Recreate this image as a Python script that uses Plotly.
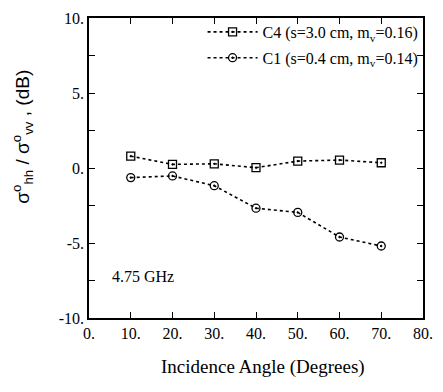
import plotly.graph_objects as go

angles = [10, 20, 30, 40, 50, 60, 70]
c4_vals = [0.79, 0.24, 0.28, 0.02, 0.46, 0.53, 0.35]
c1_vals = [-0.64, -0.53, -1.18, -2.68, -2.96, -4.6, -5.2]
c4_name = "C4 (s=3.0 cm, m<sub>v</sub>=0.16)"
c1_name = "C1 (s=0.4 cm, m<sub>v</sub>=0.14)"
x_ticks = [0, 10, 20, 30, 40, 50, 60, 70, 80]
x_ticktext = ["0.", "10.", "20.", "30.", "40.", "50.", "60.", "70.", "80."]
y_ticks = [-10, -5, 0, 5, 10]
y_ticktext = ["-10.", "-5.", "0.", "5.", "10."]

serif = "Liberation Serif, Times New Roman, serif"

fig = go.Figure()
fig.add_trace(go.Scatter(
    x=angles, y=c4_vals, name=c4_name, mode="lines+markers",
    line=dict(color="black", width=1.6, dash="dot"),
    marker=dict(symbol="square-open-dot", size=8, color="black", line=dict(width=1.3)),
    legendgroup="a"))
fig.add_trace(go.Scatter(
    x=angles, y=c1_vals, name=c1_name, mode="lines+markers",
    line=dict(color="black", width=1.6, dash="dot"),
    marker=dict(symbol="circle-open-dot", size=8, color="black", line=dict(width=1.3)),
    legendgroup="b"))

axis_common = dict(showline=True, linecolor="black", linewidth=1.5, mirror="ticks",
                   ticks="inside", ticklen=6, tickwidth=1.3, tickcolor="black",
                   showgrid=False, zeroline=False,
                   tickfont=dict(family=serif, size=16, color="black"))

fig.update_xaxes(range=[0, 80], tickvals=x_ticks, ticktext=x_ticktext, **axis_common)
fig.update_yaxes(range=[-10, 10], tickvals=y_ticks, ticktext=y_ticktext,
                 minor=dict(dtick=2.5, ticks="inside", ticklen=6, tickwidth=1.3, tickcolor="black"),
                 **axis_common)

fig.add_annotation(x=13, y=-7.2, xref="x", yref="y", text="4.75 GHz", showarrow=False,
                   font=dict(family=serif, size=16, color="black"))
fig.add_annotation(x=-0.2, y=0.605, xref="paper", yref="paper", textangle=-90,
                   xanchor="center",
                   text="σ<sup>o</sup><sub>hh</sub> / σ<sup>o</sup><sub>vv</sub> , (dB)",
                   showarrow=False, font=dict(family="Liberation Sans, Arial, sans-serif", size=19, color="black"))
fig.add_annotation(x=0.52, y=-0.12, xref="paper", yref="paper", yanchor="top",
                   text="Incidence Angle (Degrees)", showarrow=False,
                   font=dict(family=serif, size=19, color="black"))

fig.update_layout(
    width=443, height=392,
    margin=dict(l=89, r=10, t=14, b=74),
    paper_bgcolor="white", plot_bgcolor="white",
    showlegend=True,
    legend=dict(x=0.34, y=1.01, xanchor="left", yanchor="top", traceorder="grouped",
                tracegroupgap=2, itemwidth=50, bgcolor="rgba(0,0,0,0)",
                font=dict(family=serif, size=16, color="black")),
)

fig.write_html("out.html")
